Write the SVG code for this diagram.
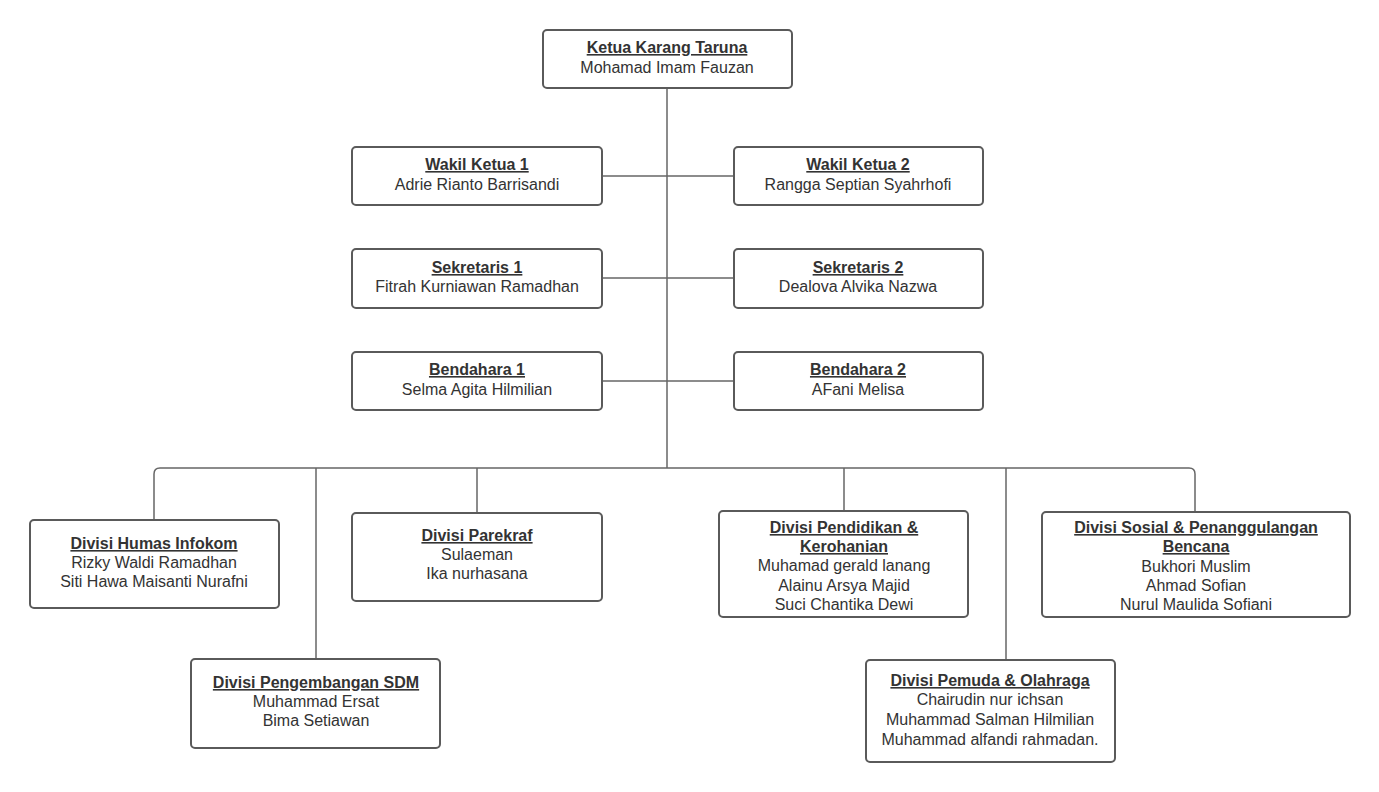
<svg xmlns="http://www.w3.org/2000/svg" width="1379" height="792" viewBox="0 0 1379 792">
<style>
.box{fill:#fff;stroke:#5a5a5a;stroke-width:2;}
.t{font-family:"Liberation Sans",Arial,sans-serif;font-size:16px;fill:#333;text-anchor:middle;}
.h{font-weight:bold;text-decoration:underline;}
.ln{fill:none;stroke:#666;stroke-width:1.5;}
</style>
<rect width="1379" height="792" fill="#fff"/>
<g id="connectors">
<path class="ln" d="M667 88V468"/>
<path class="ln" d="M602 176H734"/>
<path class="ln" d="M602 278H734"/>
<path class="ln" d="M602 381H734"/>
<path class="ln" d="M154 520V474Q154 468 160 468H1189Q1195 468 1195 474V512"/>
<path class="ln" d="M316 468V659"/>
<path class="ln" d="M477 468V513"/>
<path class="ln" d="M844 468V511"/>
<path class="ln" d="M1006 468V660"/>
</g>
<g id="ketua">
<rect class="box" x="543" y="30" width="249" height="58" rx="4"/>
<text class="t h" x="667" y="53">Ketua Karang Taruna</text>
<text class="t" x="667" y="73">Mohamad Imam Fauzan</text>
</g>
<g id="wakil1">
<rect class="box" x="352" y="147" width="250" height="58" rx="4"/>
<text class="t h" x="477" y="170">Wakil Ketua 1</text>
<text class="t" x="477" y="190">Adrie Rianto Barrisandi</text>
</g>
<g id="wakil2">
<rect class="box" x="734" y="147" width="249" height="58" rx="4"/>
<text class="t h" x="858" y="170">Wakil Ketua 2</text>
<text class="t" x="858" y="190">Rangga Septian Syahrhofi</text>
</g>
<g id="sekretaris1">
<rect class="box" x="352" y="249" width="250" height="59" rx="4"/>
<text class="t h" x="477" y="273">Sekretaris 1</text>
<text class="t" x="477" y="292">Fitrah Kurniawan Ramadhan</text>
</g>
<g id="sekretaris2">
<rect class="box" x="734" y="249" width="249" height="59" rx="4"/>
<text class="t h" x="858" y="273">Sekretaris 2</text>
<text class="t" x="858" y="292">Dealova Alvika Nazwa</text>
</g>
<g id="bendahara1">
<rect class="box" x="352" y="352" width="250" height="58" rx="4"/>
<text class="t h" x="477" y="375">Bendahara 1</text>
<text class="t" x="477" y="395">Selma Agita Hilmilian</text>
</g>
<g id="bendahara2">
<rect class="box" x="734" y="352" width="249" height="58" rx="4"/>
<text class="t h" x="858" y="375">Bendahara 2</text>
<text class="t" x="858" y="395">AFani Melisa</text>
</g>
<g id="humas">
<rect class="box" x="30" y="520" width="249" height="88" rx="4"/>
<text class="t h" x="154" y="549">Divisi Humas Infokom</text>
<text class="t" x="154" y="568">Rizky Waldi Ramadhan</text>
<text class="t" x="154" y="587">Siti Hawa Maisanti Nurafni</text>
</g>
<g id="parekraf">
<rect class="box" x="352" y="513" width="250" height="88" rx="4"/>
<text class="t h" x="477" y="541">Divisi Parekraf</text>
<text class="t" x="477" y="560">Sulaeman</text>
<text class="t" x="477" y="579">Ika nurhasana</text>
</g>
<g id="pendidikan">
<rect class="box" x="719" y="511" width="249" height="106" rx="4"/>
<text class="t h" x="844" y="533">Divisi Pendidikan &amp;</text>
<text class="t h" x="844" y="552">Kerohanian</text>
<text class="t" x="844" y="571">Muhamad gerald lanang</text>
<text class="t" x="844" y="591">Alainu Arsya Majid</text>
<text class="t" x="844" y="610">Suci Chantika Dewi</text>
</g>
<g id="sosial">
<rect class="box" x="1042" y="512" width="308" height="105" rx="4"/>
<text class="t h" x="1196" y="533">Divisi Sosial &amp; Penanggulangan</text>
<text class="t h" x="1196" y="552">Bencana</text>
<text class="t" x="1196" y="572">Bukhori Muslim</text>
<text class="t" x="1196" y="591">Ahmad Sofian</text>
<text class="t" x="1196" y="610">Nurul Maulida Sofiani</text>
</g>
<g id="sdm">
<rect class="box" x="191" y="659" width="249" height="89" rx="4"/>
<text class="t h" x="316" y="688">Divisi Pengembangan SDM</text>
<text class="t" x="316" y="707">Muhammad Ersat</text>
<text class="t" x="316" y="726">Bima Setiawan</text>
</g>
<g id="pemuda">
<rect class="box" x="866" y="660" width="249" height="102" rx="4"/>
<text class="t h" x="990" y="686">Divisi Pemuda &amp; Olahraga</text>
<text class="t" x="990" y="705">Chairudin nur ichsan</text>
<text class="t" x="990" y="725">Muhammad Salman Hilmilian</text>
<text class="t" x="990" y="745">Muhammad alfandi rahmadan.</text>
</g>
</svg>
